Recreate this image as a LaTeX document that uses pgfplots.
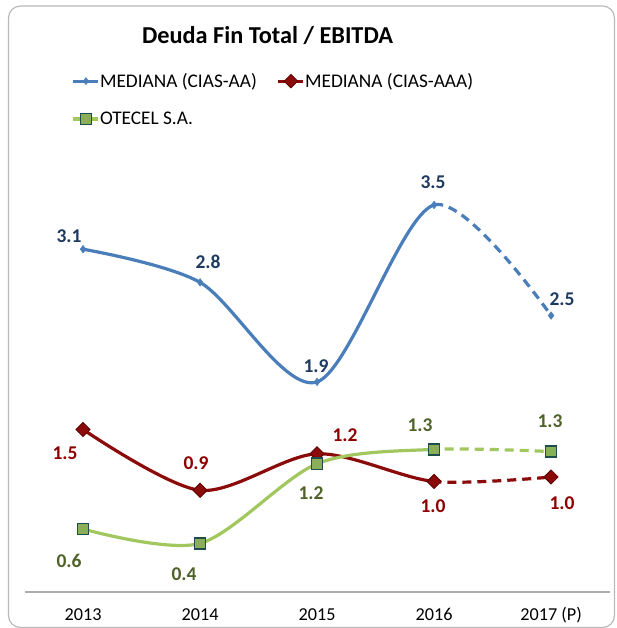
\documentclass[border=0pt]{standalone}
\usepackage{fontspec}
\setmainfont{Carlito}
\usepackage{pgfplots}
\pgfplotsset{compat=1.18}
\definecolor{blueL}{HTML}{4A7EBB}
\definecolor{blueT}{HTML}{1F3A60}
\definecolor{redL}{HTML}{8B0A0A}
\definecolor{redT}{HTML}{8E0000}
\definecolor{redD}{HTML}{5A0000}
\definecolor{greenL}{HTML}{A2C75E}
\definecolor{greenF}{HTML}{8DAE58}
\definecolor{greenD}{HTML}{1E4D4D}
\definecolor{greenT}{HTML}{4F6228}
\begin{document}
\begin{tikzpicture}[x=1pt,y=1pt]
\useasboundingbox (0,0) rectangle (617,628);
\draw[gray!55, line width=1.2pt, rounded corners=12pt] (8.5,0.5) rectangle (614.5,622);
\node[font=\fontsize{24.3}{29}\selectfont\bfseries, anchor=base] at (267.5,584) {Deuda Fin Total / EBITDA};
\begin{axis}[
  at={(21,32.5)}, anchor=south west,
  scale only axis, width=585pt, height=442.4pt,
  xmin=-0.5, xmax=4.5, ymin=0, ymax=4,
  axis x line=bottom, axis y line=none,
  x axis line style={-, draw=gray!65, line width=1.3pt},
  xtick={0,1,2,3,4},
  xticklabels={2013,2014,2015,2016,2017 (P)},
  major tick length=0pt,
  xticklabel style={font=\fontsize{18.2}{20}\selectfont, anchor=base, yshift=-28pt},
  legend columns=2,
  legend cell align=left,
  legend style={draw=none, fill=none, at={(0.0753,1.182)}, anchor=north west,
    font=\fontsize{19.3}{22}\selectfont, row sep=19pt,
    nodes={inner xsep=0pt},
    /tikz/column 2/.style={column sep=20pt}},
  legend image code/.code={\draw[mark repeat=2,mark phase=2,#1] plot coordinates {(0pt,0pt) (12.5pt,0pt) (25pt,0pt)};},
]
\addlegendimage{blueL, line width=3.2pt, mark=diamond*, mark size=3.5pt, mark options={solid, fill=blueL, draw=blueL, line width=0.5pt}}
\addlegendentry{MEDIANA (CIAS-AA)}
\addlegendimage{redL, line width=3.2pt, mark=square*, mark size=4.8pt, mark options={solid, rotate=45, fill=redL, draw=redD, line width=0.8pt}}
\addlegendentry{MEDIANA (CIAS-AAA)}
\addlegendimage{greenL, line width=3.2pt, mark=square*, mark size=5.5pt, mark options={solid, fill=greenF, draw=greenD, line width=1.4pt, rounded corners=1.5pt}}
\addlegendentry{OTECEL S.A.}

% solid parts
\begin{scope}
\clip (axis cs:-0.5,0) rectangle (axis cs:3,4);
\addplot[blueL, line width=3.2pt, smooth, forget plot] coordinates {(0,3.10) (1,2.80) (2,1.90) (3,3.50) (4,2.50)};
\addplot[redL, line width=3.2pt, smooth, forget plot] coordinates {(0,1.47) (1,0.92) (2,1.25) (3,1.00) (4,1.04)};
\addplot[greenL, line width=3.2pt, smooth, forget plot] coordinates {(0,0.57) (1,0.44) (2,1.16) (3,1.29) (4,1.27)};
\end{scope}
% dashed parts
\begin{scope}
\clip (axis cs:3,0) rectangle (axis cs:4.5,4);
\addplot[blueL, line width=3.2pt, smooth, dash pattern=on 9pt off 6pt, forget plot] coordinates {(0,3.10) (1,2.80) (2,1.90) (3,3.50) (4,2.50)};
\addplot[redL, line width=3.2pt, smooth, dash pattern=on 9pt off 6pt, forget plot] coordinates {(0,1.47) (1,0.92) (2,1.25) (3,1.00) (4,1.04)};
\addplot[greenL, line width=3.2pt, smooth, dash pattern=on 9pt off 6pt, forget plot] coordinates {(0,0.57) (1,0.44) (2,1.16) (3,1.29) (4,1.27)};
\end{scope}
% markers
\addplot[only marks, mark=diamond*, mark size=3.8pt, mark options={fill=blueL, draw=blueL, line width=0.5pt}, forget plot] coordinates {(0,3.10) (1,2.80) (2,1.90) (3,3.50) (4,2.50)};
\addplot[only marks, mark=square*, mark size=5pt, mark options={rotate=45, fill=redL, draw=redD, line width=0.8pt}, forget plot] coordinates {(0,1.47) (1,0.92) (2,1.25) (3,1.00) (4,1.04)};
\addplot[only marks, mark=square*, mark size=5.6pt, mark options={fill=greenF, draw=greenD, line width=1.5pt, rounded corners=1.5pt}, forget plot] coordinates {(0,0.57) (1,0.44) (2,1.16) (3,1.29) (4,1.27)};

% data labels
\begin{scope}[every node/.style={font=\fontsize{19.5}{22}\selectfont\bfseries, inner sep=0pt}]
\node[text=blueT, xshift=-14pt, yshift=13pt] at (axis cs:0,3.10) {3.1};
\node[text=blueT, xshift=8pt, yshift=21pt] at (axis cs:1,2.80) {2.8};
\node[text=blueT, xshift=-1pt, yshift=16pt] at (axis cs:2,1.90) {1.9};
\node[text=blueT, xshift=-1pt, yshift=23pt] at (axis cs:3,3.50) {3.5};
\node[text=blueT, xshift=11pt, yshift=16pt] at (axis cs:4,2.50) {2.5};
\node[text=redT, xshift=-18pt, yshift=-24pt] at (axis cs:0,1.47) {1.5};
\node[text=redT, xshift=-4pt, yshift=27pt] at (axis cs:1,0.92) {0.9};
\node[text=redT, xshift=28pt, yshift=19pt] at (axis cs:2,1.25) {1.2};
\node[text=redT, xshift=-1pt, yshift=-25pt] at (axis cs:3,1.00) {1.0};
\node[text=redT, xshift=11pt, yshift=-26pt] at (axis cs:4,1.04) {1.0};
\node[text=greenT, xshift=-14pt, yshift=-32pt] at (axis cs:0,0.57) {0.6};
\node[text=greenT, xshift=-16pt, yshift=-31pt] at (axis cs:1,0.44) {0.4};
\node[text=greenT, xshift=-6pt, yshift=-29pt] at (axis cs:2,1.16) {1.2};
\node[text=greenT, xshift=-14pt, yshift=24pt] at (axis cs:3,1.29) {1.3};
\node[text=greenT, xshift=-1pt, yshift=30pt] at (axis cs:4,1.27) {1.3};
\end{scope}
\end{axis}
\end{tikzpicture}
\end{document}
